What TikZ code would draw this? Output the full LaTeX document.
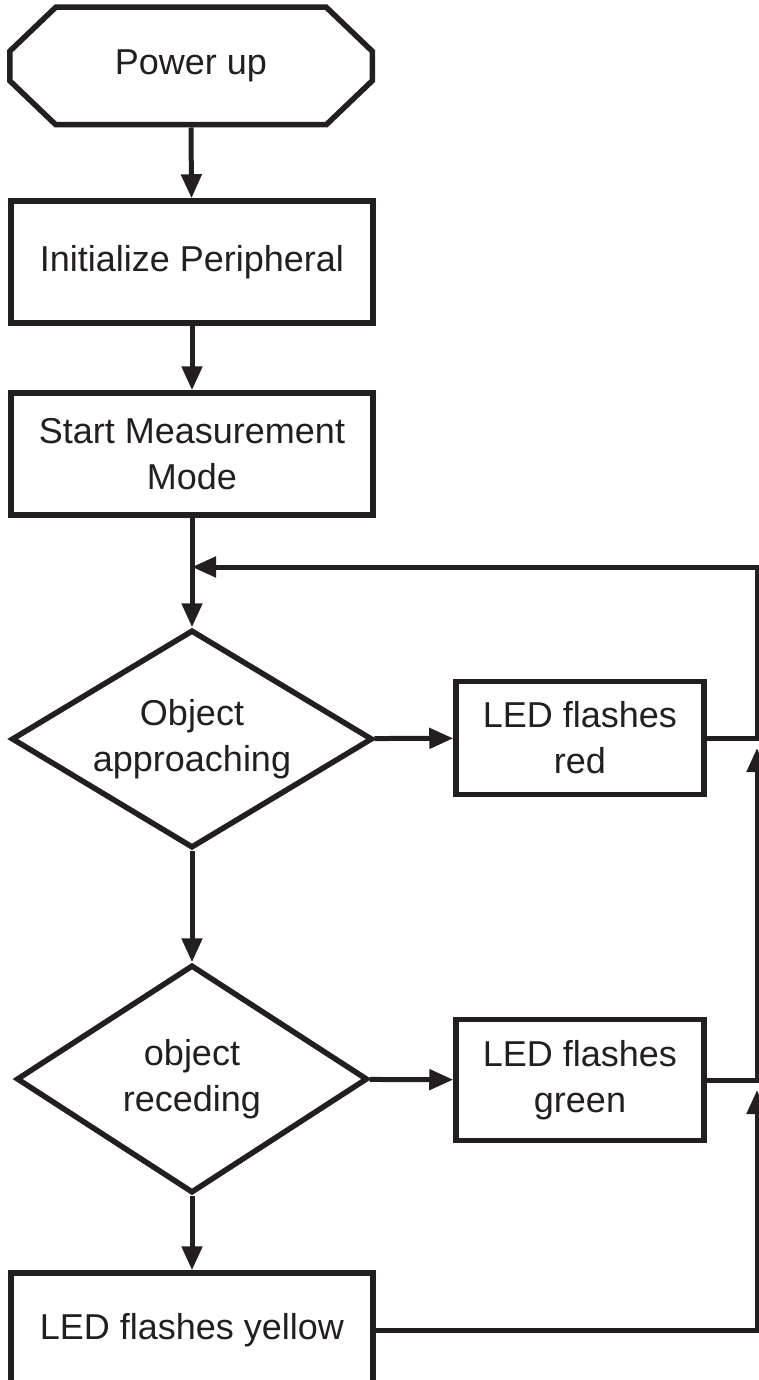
\documentclass[tikz,border=0pt]{standalone}
\usepackage{fontspec}
\setmainfont{Liberation Sans}
\usetikzlibrary{shapes.geometric,arrows.meta,calc}
\definecolor{ink}{HTML}{231F20}
\tikzset{
    base/.style={text=ink, line width=5.5pt, inner sep=0pt, align=center, font=\fontsize{36}{46}\selectfont},
    startstop/.style={base, rectangle, minimum width=357pt, minimum height=112pt},
    process/.style={base, draw=ink, rectangle, minimum width=362pt, minimum height=122pt},
    action/.style={base, draw=ink, rectangle, minimum width=248pt},
    decision/.style={base, draw=ink, diamond, aspect=1.65},
    flow/.style={draw=ink, line width=5pt, -{Triangle[length=24pt,width=20pt]}},
    edge/.style={draw=ink, line width=5.5pt, line join=miter}
}
\begin{document}
\begin{tikzpicture}[x=1pt,y=-1pt]
    \useasboundingbox (0,0) rectangle (759,1380);

    \node[startstop] (power) at (191,66) {Power up};
    \draw[edge] ($(power.north west)+(46,0)$) -- ($(power.north east)+(-46,0)$)
        -- ($(power.north east)+(0,44)$) -- ($(power.south east)+(0,-44)$)
        -- ($(power.south east)+(-46,0)$) -- ($(power.south west)+(46,0)$)
        -- ($(power.south west)+(0,-44)$) -- ($(power.north west)+(0,44)$) -- cycle;

    \node[process] (init) at (192,262) {Initialize Peripheral};
    \node[process] (measure) at (192,454) {Start Measurement\\Mode};
    \node[decision, minimum width=361pt, minimum height=218pt] (approach) at (192,739) {Object\\approaching};
    \node[action, minimum height=113pt] (red) at (580,738) {LED flashes\\red};
    \node[decision, minimum width=351pt, minimum height=228pt] (recede) at (192,1079) {object\\receding};
    \node[action, minimum height=121pt] (green) at (580,1080) {LED flashes\\green};
    \node[process, minimum height=114pt] (yellow) at (192,1330) {LED flashes yellow};

    \coordinate (loop) at (192,567);
    \coordinate (rail) at (757,567);

    \draw[flow] ([yshift=-2.75pt]power.south) -- (init);
    \draw[flow] (init) -- (measure);
    \draw[flow] (measure) -- (approach);
    \draw[flow] (approach) -- (red);
    \draw[flow] (approach) -- (recede);
    \draw[flow] (recede) -- (green);
    \draw[flow] (recede) -- (yellow);

    % back to the measuring loop
    \draw[flow] (yellow.east) -- (yellow.east -| rail) -- ($(green.east -| rail)+(0,10)$);
    \draw[flow] (green.east) -- (green.east -| rail) -- ($(red.east -| rail)+(0,10)$);
    \draw[flow] (red.east) -- (red.east -| rail) -- (rail) -- (loop);
\end{tikzpicture}
\end{document}
